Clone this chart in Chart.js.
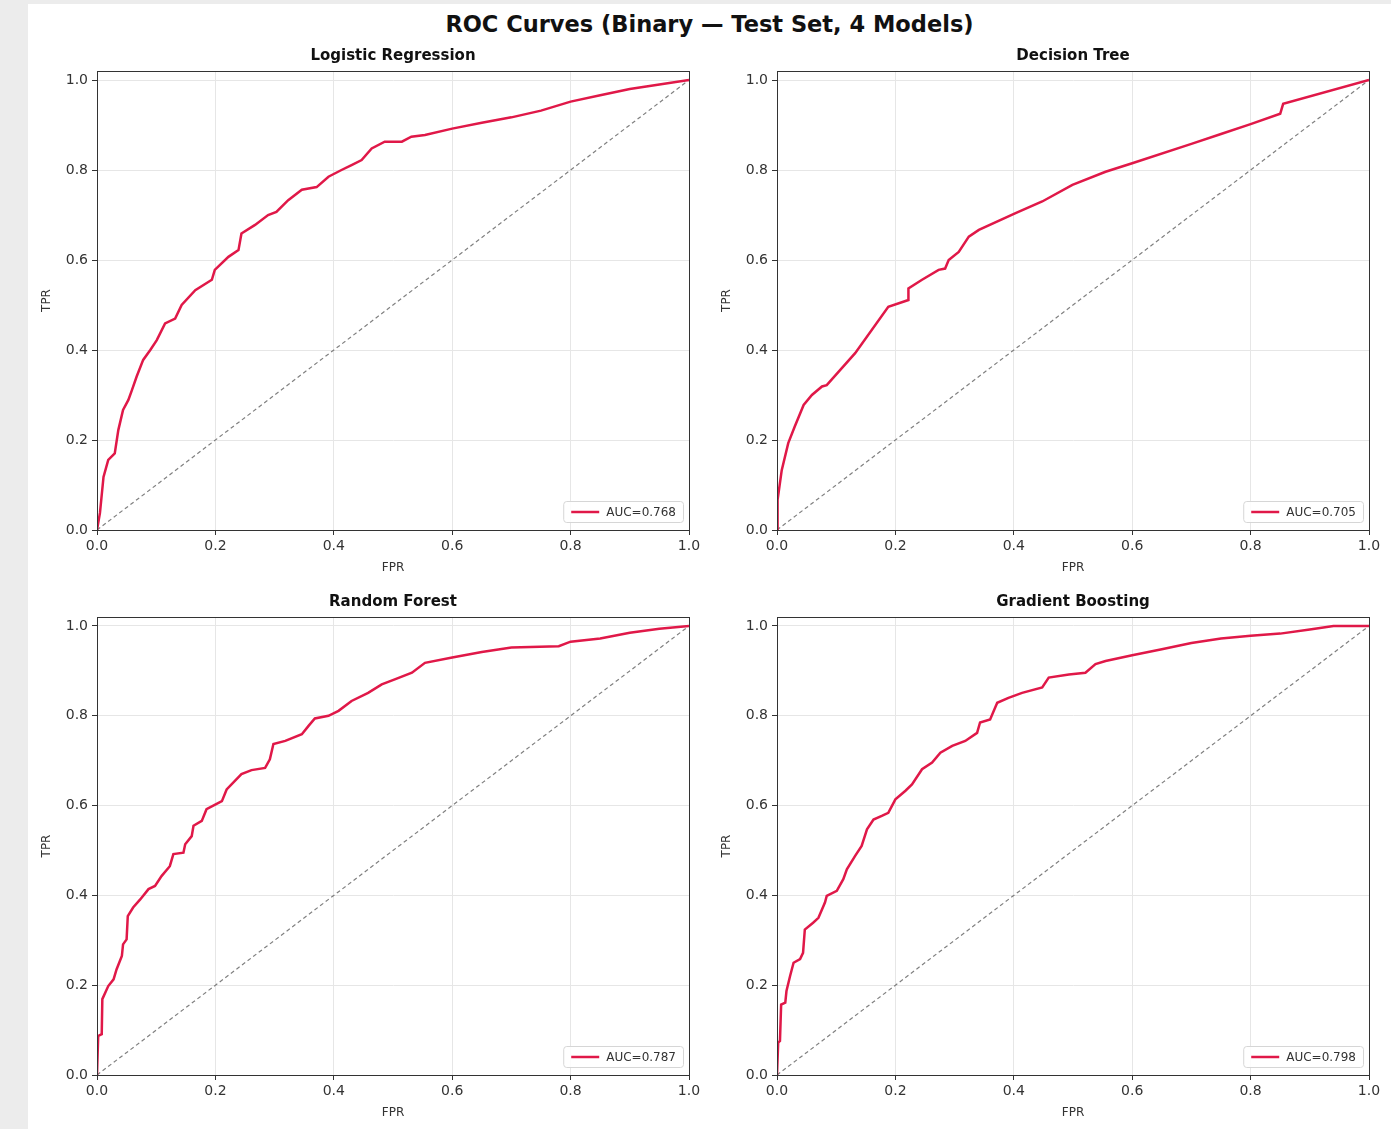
<!DOCTYPE html>
<html>
<head>
<meta charset="utf-8">
<script src="https://cdn.jsdelivr.net/npm/chart.js@4.4.1/dist/chart.umd.min.js"></script>
<style>
  body { margin: 0; background: #ececec; width: 1391px; height: 1129px; overflow: hidden; font-family: "DejaVu Sans", sans-serif; }
  #fig { position: absolute; left: 28px; top: 4px; right: 0; bottom: 0; background: #fff; }
  #suptitle { position: absolute; left: 28px; width: 1363px; top: 11px; text-align: center; font-weight: bold; font-size: 22.5px; color: #111; }
  .panel { position: absolute; width: 664px; }
</style>
</head>
<body>
<div id="fig"></div>
<div id="suptitle">ROC Curves (Binary — Test Set, 4 Models)</div>
<div class="panel" style="left:40px; top:45px;"><canvas id="c0" width="664" height="530"></canvas></div>
<div class="panel" style="left:720px; top:45px;"><canvas id="c1" width="664" height="530"></canvas></div>
<div class="panel" style="left:40px; top:591px;"><canvas id="c2" width="664" height="529"></canvas></div>
<div class="panel" style="left:720px; top:591px;"><canvas id="c3" width="664" height="529"></canvas></div>
<script>
const modelNames = ['Logistic Regression', 'Decision Tree', 'Random Forest', 'Gradient Boosting'];
const aucValues = [0.768, 0.705, 0.787, 0.798];
const xTicks = [0, 0.2, 0.4, 0.6, 0.8, 1.0];
const yTicks = [0, 0.2, 0.4, 0.6, 0.8, 1.0];

const lrFpr = [0, 0.005, 0.011, 0.019, 0.030, 0.036, 0.044, 0.053, 0.059, 0.067, 0.078, 0.090, 0.101, 0.115, 0.132, 0.143, 0.166, 0.194, 0.199, 0.222, 0.239, 0.244, 0.267, 0.289, 0.303, 0.323, 0.346, 0.371, 0.391, 0.413, 0.430, 0.447, 0.464, 0.486, 0.515, 0.531, 0.554, 0.600, 0.650, 0.700, 0.750, 0.800, 0.850, 0.900, 0.950, 1.0];
const lrTpr = [0, 0.038, 0.118, 0.156, 0.170, 0.222, 0.267, 0.289, 0.311, 0.341, 0.378, 0.400, 0.422, 0.459, 0.470, 0.500, 0.533, 0.556, 0.578, 0.607, 0.622, 0.659, 0.678, 0.700, 0.707, 0.733, 0.756, 0.762, 0.785, 0.800, 0.811, 0.822, 0.848, 0.863, 0.863, 0.874, 0.878, 0.892, 0.905, 0.917, 0.932, 0.952, 0.966, 0.980, 0.990, 1.0];

const dtFpr = [0, 0.001, 0.008, 0.019, 0.030, 0.045, 0.059, 0.076, 0.084, 0.132, 0.188, 0.222, 0.222, 0.245, 0.273, 0.284, 0.290, 0.307, 0.324, 0.341, 0.403, 0.448, 0.499, 0.555, 0.600, 0.700, 0.750, 0.800, 0.850, 0.855, 1.0];
const dtTpr = [0, 0.067, 0.133, 0.193, 0.230, 0.278, 0.300, 0.319, 0.322, 0.393, 0.496, 0.511, 0.537, 0.556, 0.578, 0.581, 0.600, 0.618, 0.652, 0.667, 0.704, 0.730, 0.767, 0.796, 0.815, 0.858, 0.880, 0.902, 0.925, 0.947, 1.0];

const rfFpr = [0, 0.002, 0.008, 0.009, 0.019, 0.028, 0.033, 0.042, 0.044, 0.050, 0.052, 0.061, 0.073, 0.087, 0.098, 0.109, 0.123, 0.129, 0.146, 0.149, 0.160, 0.163, 0.177, 0.185, 0.211, 0.219, 0.244, 0.261, 0.284, 0.292, 0.298, 0.318, 0.346, 0.357, 0.368, 0.391, 0.408, 0.430, 0.458, 0.481, 0.503, 0.532, 0.554, 0.600, 0.650, 0.700, 0.780, 0.800, 0.850, 0.900, 0.950, 1.0];
const rfTpr = [0, 0.087, 0.091, 0.169, 0.198, 0.213, 0.235, 0.265, 0.291, 0.302, 0.354, 0.373, 0.391, 0.414, 0.421, 0.443, 0.465, 0.492, 0.495, 0.514, 0.532, 0.555, 0.566, 0.592, 0.610, 0.636, 0.670, 0.679, 0.684, 0.703, 0.737, 0.744, 0.759, 0.777, 0.794, 0.800, 0.811, 0.833, 0.851, 0.870, 0.881, 0.896, 0.918, 0.930, 0.942, 0.952, 0.955, 0.965, 0.972, 0.985, 0.994, 1.0];

const gbFpr = [0, 0.002, 0.005, 0.007, 0.014, 0.016, 0.022, 0.028, 0.039, 0.044, 0.047, 0.061, 0.070, 0.081, 0.084, 0.101, 0.112, 0.118, 0.132, 0.143, 0.152, 0.163, 0.177, 0.188, 0.200, 0.217, 0.228, 0.245, 0.262, 0.276, 0.296, 0.318, 0.338, 0.343, 0.360, 0.372, 0.391, 0.414, 0.448, 0.459, 0.493, 0.521, 0.538, 0.555, 0.600, 0.650, 0.700, 0.750, 0.800, 0.850, 0.900, 0.940, 1.0];
const gbTpr = [0, 0.072, 0.076, 0.157, 0.161, 0.187, 0.220, 0.250, 0.258, 0.272, 0.324, 0.339, 0.350, 0.384, 0.399, 0.410, 0.436, 0.458, 0.488, 0.510, 0.547, 0.569, 0.577, 0.584, 0.614, 0.633, 0.647, 0.681, 0.696, 0.718, 0.733, 0.744, 0.762, 0.785, 0.792, 0.829, 0.840, 0.851, 0.863, 0.885, 0.892, 0.896, 0.915, 0.922, 0.935, 0.948, 0.962, 0.972, 0.978, 0.983, 0.992, 1.0, 1.0];

const fprSets = [lrFpr, dtFpr, rfFpr, gbFpr];
const tprSets = [lrTpr, dtTpr, rfTpr, gbTpr];

const curveColor = '#e01848';
const font = 'DejaVu Sans';

// spines, subplot title (centred on the axes like matplotlib) and the lower-right legend
const framePlugin = {
    id: 'frame',
    afterDraw(chart, args, opts) {
        const a = chart.chartArea;
        const ctx = chart.ctx;
        ctx.save();
        ctx.strokeStyle = '#333';
        ctx.lineWidth = 1;
        ctx.strokeRect(Math.round(a.left) + 0.5, Math.round(a.top) + 0.5, Math.round(a.right - a.left), Math.round(a.bottom - a.top));

        ctx.fillStyle = '#111';
        ctx.font = 'bold 15px "' + font + '"';
        ctx.textAlign = 'center';
        ctx.textBaseline = 'middle';
        ctx.fillText(opts.title, (a.left + a.right) / 2, a.top - 15);

        const ds = chart.data.datasets[0];
        ctx.textAlign = 'left';
        ctx.font = '12px "' + font + '"';
        const tw = ctx.measureText(ds.label).width;
        const w = 8 + 28 + 7 + tw + 7;
        const h = 21;
        const x = a.right - 6 - w;
        const y = a.bottom - 8 - h;
        ctx.beginPath();
        ctx.roundRect(x + 0.5, y + 0.5, w, h, 3);
        ctx.fillStyle = 'rgba(255,255,255,0.85)';
        ctx.fill();
        ctx.strokeStyle = '#d6d6d6';
        ctx.stroke();
        ctx.beginPath();
        ctx.moveTo(x + 8, y + h / 2 + 0.5);
        ctx.lineTo(x + 36, y + h / 2 + 0.5);
        ctx.strokeStyle = ds.borderColor;
        ctx.lineWidth = 2.5;
        ctx.stroke();
        ctx.fillStyle = '#333';
        ctx.fillText(ds.label, x + 43, y + h / 2 + 1);
        ctx.restore();
    }
};

modelNames.forEach((name, i) => {
    const pts = fprSets[i].map((f, k) => ({ x: f, y: tprSets[i][k] }));
    new Chart(document.getElementById('c' + i).getContext('2d'), {
        type: 'line',
        data: {
            datasets: [{
                label: 'AUC=' + aucValues[i].toFixed(3),
                data: pts,
                borderColor: curveColor,
                borderWidth: 2.5,
                pointRadius: 0,
                tension: 0
            }, {
                label: 'chance',
                data: [{ x: 0, y: 0 }, { x: 1, y: 1 }],
                borderColor: '#808080',
                borderWidth: 1.2,
                borderDash: [4, 3],
                pointRadius: 0
            }]
        },
        options: {
            responsive: false,
            animation: false,
            layout: { padding: { right: 15, left: 0, top: 26, bottom: 0 } },
            plugins: {
                legend: { display: false },
                tooltip: { enabled: false },
                frame: { title: name }
            },
            scales: {
                x: {
                    type: 'linear',
                    min: 0, max: 1,
                    afterBuildTicks: s => { s.ticks = xTicks.map(v => ({ value: v })); },
                    afterFit: s => { s.height = 45; },
                    ticks: { color: '#333', font: { family: font, size: 14 }, padding: 3, maxRotation: 0, callback: v => v.toFixed(1) },
                    grid: { color: '#e6e6e6', tickColor: '#333', tickLength: 5 },
                    border: { color: '#333' },
                    title: { display: true, text: 'FPR', color: '#333', font: { family: font, size: 12 }, padding: { top: 4, bottom: 0 } }
                },
                y: {
                    type: 'linear',
                    min: 0, max: 1.02,
                    afterBuildTicks: s => { s.ticks = yTicks.map(v => ({ value: v })); },
                    afterFit: s => { s.width = 57; },
                    ticks: { color: '#333', font: { family: font, size: 14 }, padding: 4, callback: v => v.toFixed(1) },
                    grid: { color: '#e6e6e6', tickColor: '#333', tickLength: 5 },
                    border: { color: '#333' },
                    title: { display: true, text: 'TPR', color: '#333', font: { family: font, size: 12 }, padding: 0 }
                }
            }
        },
        plugins: [framePlugin]
    });
});
</script>
</body>
</html>
